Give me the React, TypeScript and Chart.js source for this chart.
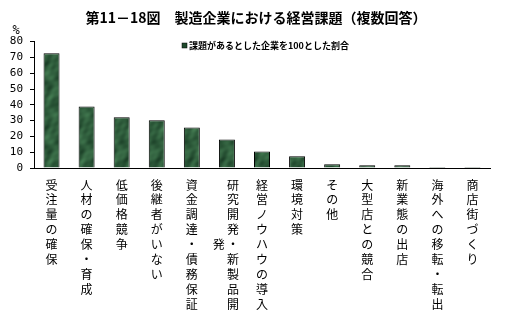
import React, { useEffect, useRef } from "react";
import { Chart, registerables } from "chart.js";

Chart.register(...registerables);

const TITLE = "第11－18図　製造企業における経営課題（複数回答）";
const SERIES_LABEL = "課題があるとした企業を100とした割合";
const Y_UNIT = "%";
const CATEGORIES = [
  "受注量の確保",
  "人材の確保・育成",
  "低価格競争",
  "後継者がいない",
  "資金調達・債務保証",
  "研究開発・新製品開発",
  "経営ノウハウの導入",
  "環境対策",
  "その他",
  "大型店との競合",
  "新業態の出店",
  "海外への移転・転出",
  "商店街づくり",
];
const VALUES = [72.6, 39.0, 32.1, 30.2, 25.7, 18.1, 10.5, 7.4, 2.3, 1.8, 1.8, 0.6, 0.6];
const Y_MIN = 0;
const Y_MAX = 80;
const Y_STEP = 10;

const JP = '"Noto Sans CJK JP", "Noto Sans CJK SC", sans-serif';
const MAX_ROWS = 9;

function makeMarble(ctx: CanvasRenderingContext2D): CanvasPattern | string {
  const w = 32;
  const h = 64;
  const c = document.createElement("canvas");
  c.width = w;
  c.height = h;
  const g = c.getContext("2d");
  if (!g) return "#2c5a3a";
  const img = g.createImageData(w, h);
  const T = 2 * Math.PI;
  for (let y = 0; y < h; y++) {
    for (let x = 0; x < w; x++) {
      let v =
        0.3 * Math.sin((x * T) / 16 + 1.8 * Math.sin((y * T) / 32)) +
        0.25 * Math.sin((y * T) / 21.333 + 1.6 * Math.cos((x * T) / 32)) +
        0.2 * Math.sin(((x + y) * T) / 10.667) * Math.cos(((x - 2 * y) * T) / 32) +
        0.15 * Math.sin((x * T) / 8 + (y * T) / 16);
      v = 0.5 + v * 0.55;
      v = Math.max(0, Math.min(1, v));
      const i = (y * w + x) * 4;
      img.data[i] = 26 + v * 42;
      img.data[i + 1] = 62 + v * 62;
      img.data[i + 2] = 38 + v * 44;
      img.data[i + 3] = 255;
    }
  }
  g.putImageData(img, 0, 0);
  return ctx.createPattern(c, "repeat") || "#2c5a3a";
}

const overlayPlugin = {
  id: "overlay",
  afterDraw(chart: any) {
    const ctx: CanvasRenderingContext2D = chart.ctx;
    const xScale = chart.scales.x;
    ctx.save();
    ctx.fillStyle = "#000";
    ctx.textAlign = "center";
    ctx.textBaseline = "middle";

    // title
    ctx.font = `bold 14px ${JP}`;
    ctx.fillText(TITLE, 256, 18);

    // unit
    ctx.font = `12px "DejaVu Sans Mono", monospace`;
    ctx.fillText(Y_UNIT, 16, 31);

    // legend
    const label = chart.data.datasets[0].label as string;
    ctx.fillStyle = "#1f4a2c";
    ctx.fillRect(182, 43, 5, 5);
    ctx.strokeStyle = "#000";
    ctx.lineWidth = 0.5;
    ctx.strokeRect(182, 43, 5, 5);
    ctx.fillStyle = "#000";
    ctx.textAlign = "left";
    ctx.font = `bold 9px ${JP}`;
    ctx.fillText(label, 189, 46);

    // vertical category labels
    ctx.textAlign = "center";
    ctx.font = `12px ${JP}`;
    const rowTop = 185;
    const pitch = 14.9;
    const colPitch = 14.2;
    (chart.data.labels as string[]).forEach((lab, i) => {
      const chars = Array.from(lab);
      const cols: string[][] = [];
      for (let k = 0; k < chars.length; k += MAX_ROWS) cols.push(chars.slice(k, k + MAX_ROWS));
      const cx = xScale.getPixelForValue(i);
      const n = cols.length;
      cols.forEach((col, ci) => {
        const x = n === 1 ? cx : cx - 1 + ((n - 1) / 2 - ci) * colPitch;
        const startRow = ci === 0 ? 0 : Math.floor((MAX_ROWS - col.length) / 2);
        col.forEach((ch, r) => {
          ctx.fillText(ch, x, rowTop + (startRow + r) * pitch);
        });
      });
    });
    ctx.restore();
  },
};

export default function App() {
  const ref = useRef<HTMLCanvasElement | null>(null);
  useEffect(() => {
    const canvas = ref.current;
    if (!canvas) return;
    const ctx = canvas.getContext("2d");
    if (!ctx) return;
    const marble = makeMarble(ctx);
    const chart = new Chart(canvas, {
      type: "bar",
      data: {
        labels: CATEGORIES,
        datasets: [
          {
            label: SERIES_LABEL,
            data: VALUES,
            backgroundColor: marble as any,
            borderColor: "#000",
            borderWidth: 1,
            borderSkipped: "bottom",
            barPercentage: 0.456,
            categoryPercentage: 1,
          },
        ],
      },
      options: {
        responsive: false,
        animation: false,
        devicePixelRatio: 1,
        layout: { padding: { top: 41.6, left: 0, right: 28, bottom: 151 } },
        plugins: {
          legend: { display: false },
          title: { display: false },
          tooltip: { enabled: false },
        },
        scales: {
          x: {
            type: "category",
            ticks: { display: false },
            grid: { display: false },
            border: { display: true, color: "#000", width: 1 },
            afterFit: (scale: any) => {
              scale.height = 0;
            },
          },
          y: {
            min: Y_MIN,
            max: Y_MAX,
            ticks: {
              stepSize: Y_STEP,
              autoSkip: false,
              color: "#000",
              padding: 7,
              font: { family: '"DejaVu Sans Mono", monospace', size: 11 },
            },
            grid: {
              display: true,
              drawOnChartArea: false,
              drawTicks: true,
              tickLength: 4,
              tickColor: "#000",
              color: "#000",
            },
            border: { display: true, color: "#000", width: 1 },
            afterFit: (scale: any) => {
              scale.width = 34;
            },
          },
        },
      },
      plugins: [overlayPlugin],
    });
    return () => chart.destroy();
  }, []);
  return (
    <div style={{ position: "absolute", left: 0, top: 0, width: 518, height: 319, background: "#fff" }}>
      <canvas ref={ref} width={518} height={319} style={{ display: "block" }} />
    </div>
  );
}
